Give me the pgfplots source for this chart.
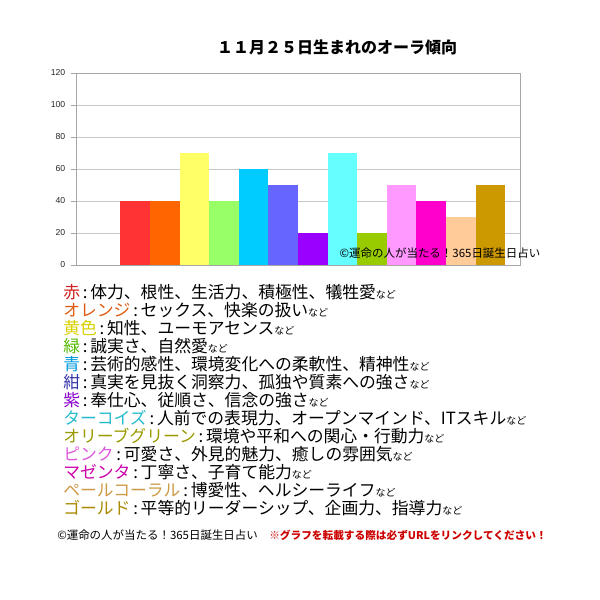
\documentclass[border=0pt]{standalone}
\usepackage{fontspec}
\setmainfont{Noto Sans CJK JP}
\newfontfamily\arialfont{Liberation Sans}
\usepackage{pgfplots}
\pgfplotsset{compat=1.18}

\definecolor{c1}{HTML}{FF3333}
\definecolor{c2}{HTML}{FF6600}
\definecolor{c3}{HTML}{FFFF66}
\definecolor{c4}{HTML}{99FF66}
\definecolor{c5}{HTML}{00CCFF}
\definecolor{c6}{HTML}{6666FF}
\definecolor{c7}{HTML}{9900FF}
\definecolor{c8}{HTML}{66FFFF}
\definecolor{c9}{HTML}{99CC00}
\definecolor{c10}{HTML}{FF99FF}
\definecolor{c11}{HTML}{FF00CC}
\definecolor{c12}{HTML}{FFCC99}
\definecolor{c13}{HTML}{CC9900}

% label colours for the text block
\definecolor{l1}{HTML}{D02020}
\definecolor{l2}{HTML}{DD5A10}
\definecolor{l3}{HTML}{D8D000}
\definecolor{l4}{HTML}{55BB00}
\definecolor{l5}{HTML}{0099DD}
\definecolor{l6}{HTML}{3333AA}
\definecolor{l7}{HTML}{8800CC}
\definecolor{l8}{HTML}{22BBCC}
\definecolor{l9}{HTML}{999900}
\definecolor{l10}{HTML}{DD55DD}
\definecolor{l11}{HTML}{CC00AA}
\definecolor{l12}{HTML}{CC9944}
\definecolor{l13}{HTML}{AA8800}

\newcommand{\nado}{{\fontsize{7.5}{8}\selectfont など}}
\newcommand{\lab}[2]{{\color{#1}#2}\,:\,}

\begin{document}
\begin{tikzpicture}
\path[use as bounding box] (0,0) rectangle (450pt,-450pt);

\node[font=\bfseries\fontsize{12}{13}\selectfont] at ({337*0.75pt},{-47.5*0.75pt}) {１１月２５日生まれのオーラ傾向};

\begin{axis}[
    at={({76*0.75pt},{-265*0.75pt})},
    anchor=south west,
    scale only axis,
    width=333pt, height=144pt,
    xmin=-2, xmax=13,
    ymin=0, ymax=120,
    ytick={0,20,...,120},
    xtick=\empty,
    ymajorgrids=true,
    grid style={color=black!22, line width=0.6pt},
    axis line style={color=black!35, line width=0.6pt},
    major tick length=4pt,
    tick align=outside,
    ytick pos=left,
    tick style={color=black!35},
    tick label style={font=\arialfont\fontsize{6.5}{7}\selectfont, text=black!85},
    /pgf/number format/assume math mode=true,
    yticklabel style={xshift=-0.5pt},
]
\addplot[ybar, bar width=1, bar shift=0pt, fill=c1, draw=none] coordinates {(0,40)};
\addplot[ybar, bar width=1, bar shift=0pt, fill=c2, draw=none] coordinates {(1,40)};
\addplot[ybar, bar width=1, bar shift=0pt, fill=c3, draw=none] coordinates {(2,70)};
\addplot[ybar, bar width=1, bar shift=0pt, fill=c4, draw=none] coordinates {(3,40)};
\addplot[ybar, bar width=1, bar shift=0pt, fill=c5, draw=none] coordinates {(4,60)};
\addplot[ybar, bar width=1, bar shift=0pt, fill=c6, draw=none] coordinates {(5,50)};
\addplot[ybar, bar width=1, bar shift=0pt, fill=c7, draw=none] coordinates {(6,20)};
\addplot[ybar, bar width=1, bar shift=0pt, fill=c8, draw=none] coordinates {(7,70)};
\addplot[ybar, bar width=1, bar shift=0pt, fill=c9, draw=none] coordinates {(8,20)};
\addplot[ybar, bar width=1, bar shift=0pt, fill=c10, draw=none] coordinates {(9,50)};
\addplot[ybar, bar width=1, bar shift=0pt, fill=c11, draw=none] coordinates {(10,40)};
\addplot[ybar, bar width=1, bar shift=0pt, fill=c12, draw=none] coordinates {(11,30)};
\addplot[ybar, bar width=1, bar shift=0pt, fill=c13, draw=none] coordinates {(12,50)};
\end{axis}

% watermark over the plot
\node[font=\fontsize{8.6}{10}\selectfont] at ({440*0.75pt},{-253*0.75pt}) {©運命の人が当たる！365日誕生日占い};

% description lines
\begin{scope}[every node/.style={anchor=base west, inner sep=0pt, font=\fontsize{12.6}{14}\selectfont}]
\node at ({63*0.75pt},{-298*0.75pt}) {\lab{l1}{赤}体力、根性、生活力、積極性、犠牲愛\nado};
\node at ({63*0.75pt},{-316*0.75pt}) {\lab{l2}{オレンジ}セックス、快楽の扱い\nado};
\node at ({63*0.75pt},{-334*0.75pt}) {\lab{l3}{黄色}知性、ユーモアセンス\nado};
\node at ({63*0.75pt},{-352*0.75pt}) {\lab{l4}{緑}誠実さ、自然愛\nado};
\node at ({63*0.75pt},{-370*0.75pt}) {\lab{l5}{青}芸術的感性、環境変化への柔軟性、精神性\nado};
\node at ({63*0.75pt},{-388*0.75pt}) {\lab{l6}{紺}真実を見抜く洞察力、孤独や質素への強さ\nado};
\node at ({63*0.75pt},{-406*0.75pt}) {\lab{l7}{紫}奉仕心、従順さ、信念の強さ\nado};
\node at ({63*0.75pt},{-424*0.75pt}) {\lab{l8}{ターコイズ}人前での表現力、オープンマインド、ITスキル\nado};
\node at ({63*0.75pt},{-442*0.75pt}) {\lab{l9}{オリーブグリーン}環境や平和への関心・行動力\nado};
\node at ({63*0.75pt},{-460*0.75pt}) {\lab{l10}{ピンク}可愛さ、外見的魅力、癒しの雰囲気\nado};
\node at ({63*0.75pt},{-478*0.75pt}) {\lab{l11}{マゼンタ}丁寧さ、子育て能力\nado};
\node at ({63*0.75pt},{-496*0.75pt}) {\lab{l12}{ペールコーラル}博愛性、ヘルシーライフ\nado};
\node at ({63*0.75pt},{-514*0.75pt}) {\lab{l13}{ゴールド}平等的リーダーシップ、企画力、指導力\nado};
\end{scope}

% footer
\node[anchor=base west, inner sep=0pt, font=\fontsize{8.6}{10}\selectfont] at ({57*0.75pt},{-539*0.75pt}) {©運命の人が当たる！365日誕生日占い};
\node[anchor=base west, inner sep=0pt, font=\bfseries\fontsize{8}{10}\selectfont, text=red!80!black] at ({269*0.75pt},{-539*0.75pt}) {※グラフを転載する際は必ずURLをリンクしてください！};
\end{tikzpicture}
\end{document}
